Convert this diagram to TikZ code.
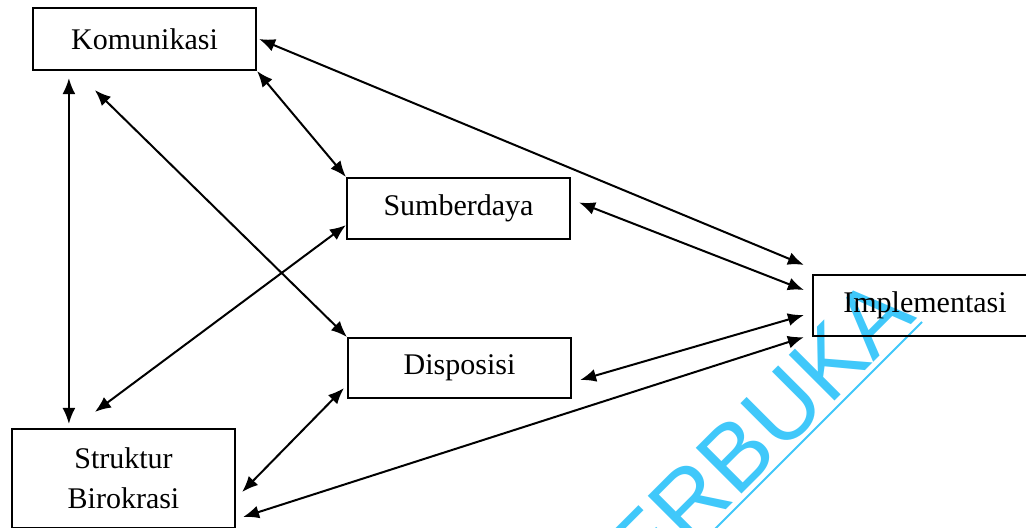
\documentclass[tikz,border=0pt]{standalone}
\usepackage{fontspec}
\setmainfont{Liberation Serif}
\newfontfamily\wmfont{Liberation Sans}
\usetikzlibrary{arrows.meta}
\definecolor{wmcyan}{RGB}{64,200,250}

\begin{document}
\begin{tikzpicture}[x=0.5pt,y=-0.5pt,
    box/.style={draw, line width=1.1pt, inner sep=0pt, minimum width=111.5pt, font=\fontsize{15}{20}\selectfont},
    link/.style={{Latex[length=8pt,width=6.5pt]}-{Latex[length=8pt,width=6.5pt]}, line width=1pt}]
        \clip (0,0) rectangle (1026,527);
        
        % watermark
        \node[wmcyan, inner sep=0pt, anchor=base east, rotate=45, font=\wmfont\fontsize{47}{47}\selectfont] at (918,318) (wm) {TERBUKA};
        \draw[wmcyan, line width=1pt] (922,322) -- (690,554);
        
        \node[box, minimum height=31pt] at (144.5,39) (kom) {Komunikasi};
        \node[box, minimum height=30.5pt] at (458.5,208.5) (sum) {Sumberdaya};
        \node[box, minimum height=30pt] at (459.5,368) (dis) {Disposisi};
        \node[box, minimum height=49.5pt, align=center] at (123.5,478.5) (str) {Struktur\\Birokrasi};
        \node[box, minimum height=30.5pt, minimum width=112pt] at (925,305.5) (imp) {Implementasi};
        
        \draw[link] ([xshift=18.5pt,yshift=-3.5pt]kom.south west) -- ([xshift=29pt,yshift=2pt]str.north west);
        \draw[link] ([xshift=31.5pt,yshift=-9.5pt]kom.south west) -- (dis.north west);
        \draw[link] (kom.south east) -- (sum.north west);
        \draw[link] ([xshift=1pt]kom.east) -- ([xshift=-4pt,yshift=4.5pt]imp.north west);
        \draw[link] ([yshift=7.5pt]sum.south west) -- ([xshift=42pt,yshift=8pt]str.north west);
        \draw[link] ([xshift=4pt,yshift=3pt]sum.east) -- ([xshift=-4pt,yshift=7.75pt]imp.west);
        \draw[link] ([xshift=4pt,yshift=-6pt]dis.east) -- ([xshift=-4pt,yshift=-4.75pt]imp.west);
        \draw[link] ([xshift=-1.5pt,yshift=5.5pt]dis.south west) -- ([xshift=3pt,yshift=-6.75pt]str.east);
        \draw[link] ([xshift=3.5pt,yshift=-19.25pt]str.east) -- ([xshift=-4pt]imp.south west);
\end{tikzpicture}
\end{document}
